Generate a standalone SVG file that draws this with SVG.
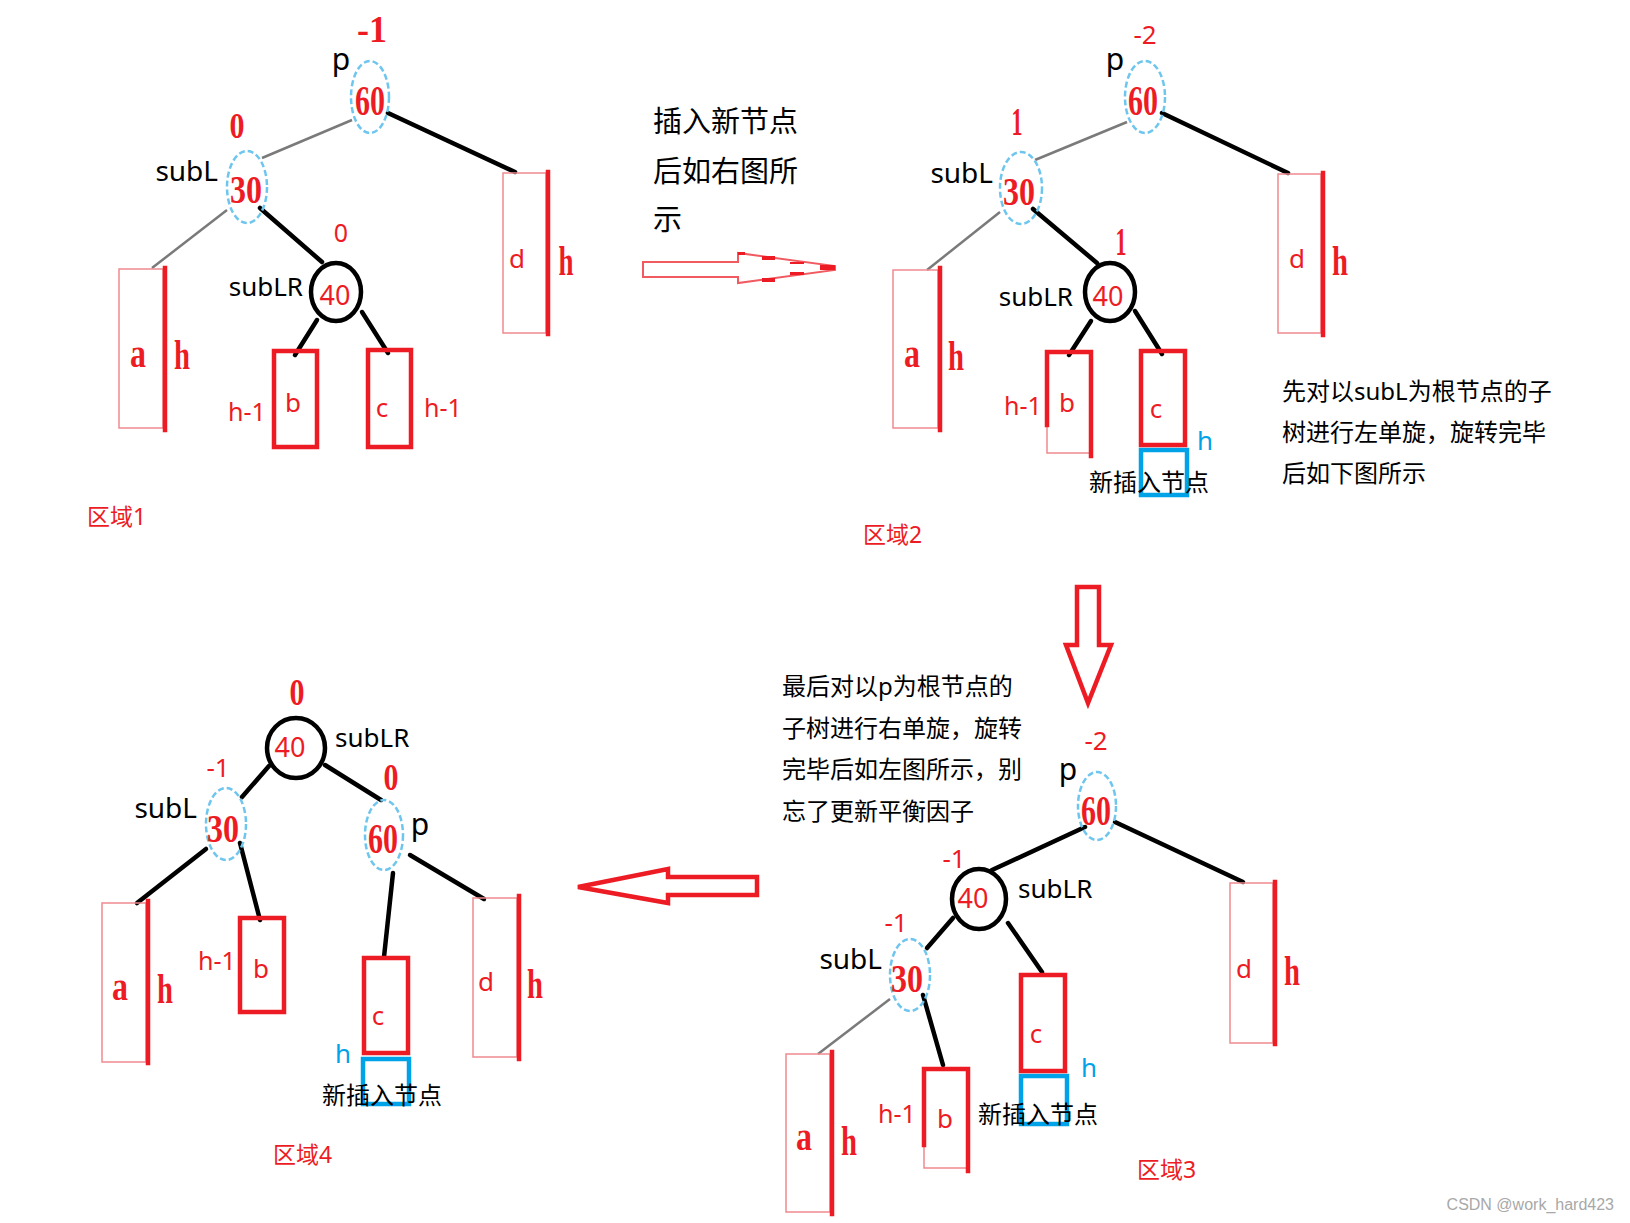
<svg xmlns="http://www.w3.org/2000/svg" width="1630" height="1223" viewBox="0 0 1630 1223">
<style>
text{font-family:"Noto Sans","Noto Sans CJK SC",sans-serif}
.k{fill:#000}
.r{fill:#ed1c24}
.bl{fill:#00a2e8}
.m{text-anchor:middle}
.e{text-anchor:end}
.ser{font-family:"Liberation Serif",serif;font-weight:bold;fill:#ed1c24;text-anchor:middle}
.thin{fill:none;stroke:#f08a8e;stroke-width:1.5}
.thick{fill:none;stroke:#ed1c24;stroke-width:4.5;stroke-linecap:square}
.blue{fill:none;stroke:#00a2e8;stroke-width:4.5}
.edge{stroke:#000;stroke-width:4.5;stroke-linecap:round}
.gedge{stroke:#7a7a7a;stroke-width:2.5}
.dash{fill:none;stroke:#6ec6ee;stroke-width:2.5;stroke-dasharray:6 3}
.circ{fill:none;stroke:#000;stroke-width:4.5}
.arr{fill:none;stroke:#ed1c24;stroke-width:4.5;stroke-linejoin:miter}
</style>
<rect width="1630" height="1223" fill="#fff"/>

<!-- ============ connectors ============ -->
<g id="connectors">
  <!-- region 1 -->
  <line class="gedge" x1="352" y1="120" x2="262" y2="158"/>
  <line class="edge" x1="388" y1="113" x2="515" y2="172"/>
  <line class="gedge" x1="227" y1="210" x2="152" y2="268"/>
  <line class="edge" x1="260" y1="208" x2="322" y2="262"/>
  <line class="edge" x1="317" y1="320" x2="295" y2="355"/>
  <line class="edge" x1="362" y1="312" x2="388" y2="353"/>
  <!-- region 2 -->
  <line class="gedge" x1="1127" y1="122" x2="1035" y2="160"/>
  <line class="edge" x1="1162" y1="113" x2="1288" y2="173"/>
  <line class="gedge" x1="1000" y1="212" x2="927" y2="270"/>
  <line class="edge" x1="1033" y1="209" x2="1097" y2="263"/>
  <line class="edge" x1="1091" y1="321" x2="1069" y2="355"/>
  <line class="edge" x1="1135" y1="311" x2="1162" y2="354"/>
  <!-- region 3 -->
  <line class="edge" x1="1085" y1="827" x2="992" y2="870"/>
  <line class="edge" x1="1115" y1="822" x2="1243" y2="882"/>
  <line class="edge" x1="953" y1="918" x2="927" y2="948"/>
  <line class="edge" x1="1008" y1="923" x2="1042" y2="972"/>
  <line class="gedge" x1="890" y1="999" x2="818" y2="1054"/>
  <line class="edge" x1="923" y1="995" x2="943" y2="1065"/>
  <!-- region 4 -->
  <line class="edge" x1="269" y1="766" x2="242" y2="797"/>
  <line class="edge" x1="325" y1="765" x2="381" y2="800"/>
  <line class="edge" x1="206" y1="849" x2="137" y2="903"/>
  <line class="edge" x1="240" y1="843" x2="260" y2="920"/>
  <line class="edge" x1="393" y1="873" x2="384" y2="957"/>
  <line class="edge" x1="410" y1="855" x2="484" y2="899"/>
</g>

<!-- ============ transition arrows ============ -->
<g id="arrow-right">
  <polygon points="643,262 738,262 738,253 835,266 835,270 738,283 738,277 643,277" fill="#fff" stroke="#f05a60" stroke-width="2"/>
  <rect x="738" y="252" width="7" height="3" fill="#ed1c24"/>
  <rect x="762" y="256" width="13" height="4" fill="#ed1c24"/>
  <rect x="790" y="262" width="14" height="2" fill="#ed1c24"/>
  <rect x="820" y="265" width="15" height="5" fill="#ed1c24"/>
  <rect x="762" y="278" width="13" height="4" fill="#ed1c24"/>
  <rect x="790" y="272" width="14" height="3" fill="#ed1c24"/>
</g>
<g id="arrow-down">
  <polygon class="arr" points="1077,587 1099,587 1099,645 1111,645 1088,703 1066,645 1077,645"/>
</g>
<g id="arrow-left">
  <polygon class="arr" points="757,877 668,877 668,869 578,887 668,903 668,895 757,895"/>
</g>

<!-- ============ REGION 1 ============ -->
<g id="r1-p">
  <ellipse class="dash" cx="370" cy="97" rx="19" ry="36"/>
  <text class="ser" x="370" y="115" font-size="42" textLength="30" lengthAdjust="spacingAndGlyphs">60</text>
  <text class="k m" x="341" y="70" font-size="30">p</text>
  <text class="ser" x="372" y="42" font-size="38" textLength="30" lengthAdjust="spacingAndGlyphs">-1</text>
</g>
<g id="r1-subL">
  <ellipse class="dash" cx="247" cy="187" rx="20" ry="36"/>
  <text class="ser" x="246" y="203" font-size="40" textLength="32" lengthAdjust="spacingAndGlyphs">30</text>
  <text class="k e" x="218" y="181" font-size="28">subL</text>
  <text class="ser" x="237" y="138" font-size="36" textLength="15" lengthAdjust="spacingAndGlyphs">0</text>
</g>
<g id="r1-subLR">
  <ellipse class="circ" cx="336" cy="292" rx="25" ry="29"/>
  <text class="r m" x="335" y="305" font-size="27">40</text>
  <text class="k e" x="303" y="296" font-size="26">subLR</text>
  <text class="r m" x="341" y="242" font-size="25">0</text>
</g>
<g id="r1-a">
  <rect class="thin" x="119" y="269" width="44" height="159"/>
  <line class="thick" x1="165" y1="268" x2="165" y2="430"/>
  <text class="ser" x="138" y="367" font-size="40" textLength="16" lengthAdjust="spacingAndGlyphs">a</text>
  <text class="ser" x="182" y="369" font-size="42" textLength="16" lengthAdjust="spacingAndGlyphs">h</text>
</g>
<g id="r1-b">
  <rect class="thick" x="274" y="351" width="43" height="96"/>
  <text class="r m" x="293" y="412" font-size="26">b</text>
  <text class="r m" x="247" y="421" font-size="25">h-1</text>
</g>
<g id="r1-c">
  <rect class="thick" x="368" y="350" width="43" height="97"/>
  <text class="r m" x="382" y="417" font-size="26">c</text>
  <text class="r m" x="443" y="417" font-size="25">h-1</text>
</g>
<g id="r1-d">
  <rect class="thin" x="503" y="173" width="43" height="160"/>
  <line class="thick" x1="548" y1="172" x2="548" y2="334"/>
  <text class="r m" x="517" y="268" font-size="26">d</text>
  <text class="ser" x="566" y="275" font-size="42" textLength="15" lengthAdjust="spacingAndGlyphs">h</text>
</g>
<g id="r1-label">
  <text class="r" x="87" y="525" font-size="23">区域1</text>
</g>

<g id="note1">
  <text class="k" x="653" y="132" font-size="29">插入新节点</text>
  <text class="k" x="653" y="182" font-size="29">后如右图所</text>
  <text class="k" x="653" y="230" font-size="29">示</text>
</g>

<!-- ============ REGION 2 ============ -->
<g id="r2-p">
  <ellipse class="dash" cx="1145" cy="97" rx="20" ry="36"/>
  <text class="ser" x="1143" y="115" font-size="42" textLength="30" lengthAdjust="spacingAndGlyphs">60</text>
  <text class="k m" x="1115" y="70" font-size="30">p</text>
  <text class="r m" x="1145" y="44" font-size="26">-2</text>
</g>
<g id="r2-subL">
  <ellipse class="dash" cx="1021" cy="188" rx="21" ry="36"/>
  <text class="ser" x="1019" y="205" font-size="40" textLength="32" lengthAdjust="spacingAndGlyphs">30</text>
  <text class="k e" x="993" y="183" font-size="28">subL</text>
  <text class="ser" x="1017" y="135" font-size="40" textLength="11" lengthAdjust="spacingAndGlyphs">1</text>
</g>
<g id="r2-subLR">
  <ellipse class="circ" cx="1110" cy="292" rx="25" ry="29"/>
  <text class="r m" x="1108" y="306" font-size="27">40</text>
  <text class="k e" x="1073" y="306" font-size="26">subLR</text>
  <text class="ser" x="1121" y="255" font-size="40" textLength="11" lengthAdjust="spacingAndGlyphs">1</text>
</g>
<g id="r2-a">
  <rect class="thin" x="893" y="270" width="45" height="158"/>
  <line class="thick" x1="940" y1="268" x2="940" y2="430"/>
  <text class="ser" x="912" y="367" font-size="40" textLength="16" lengthAdjust="spacingAndGlyphs">a</text>
  <text class="ser" x="956" y="370" font-size="42" textLength="16" lengthAdjust="spacingAndGlyphs">h</text>
</g>
<g id="r2-b">
  <polyline class="thin" points="1047,425 1047,453 1091,453"/>
  <polyline class="thick" points="1047,425 1047,352 1091,352 1091,456"/>
  <text class="r m" x="1067" y="412" font-size="26">b</text>
  <text class="r m" x="1023" y="415" font-size="25">h-1</text>
</g>
<g id="r2-c">
  <rect class="blue" x="1141" y="450" width="46" height="45"/>
  <rect class="thick" x="1141" y="351" width="44" height="94"/>
  <text class="r m" x="1156" y="418" font-size="26">c</text>
  <text class="bl m" x="1205" y="450" font-size="26">h</text>
  <text class="k" x="1089" y="491" font-size="24">新插入节点</text>
</g>
<g id="r2-d">
  <rect class="thin" x="1278" y="174" width="43" height="159"/>
  <line class="thick" x1="1323" y1="173" x2="1323" y2="335"/>
  <text class="r m" x="1297" y="268" font-size="26">d</text>
  <text class="ser" x="1340" y="275" font-size="42" textLength="16" lengthAdjust="spacingAndGlyphs">h</text>
</g>
<g id="r2-label">
  <text class="r" x="863" y="543" font-size="23">区域2</text>
</g>
<g id="note2">
  <text class="k" x="1282" y="400" font-size="24">先对以subL为根节点的子</text>
  <text class="k" x="1282" y="441" font-size="24">树进行左单旋，旋转完毕</text>
  <text class="k" x="1282" y="482" font-size="24">后如下图所示</text>
</g>

<!-- ============ REGION 3 ============ -->
<g id="note3">
  <text class="k" x="782" y="695" font-size="24">最后对以p为根节点的</text>
  <text class="k" x="782" y="737" font-size="24">子树进行右单旋，旋转</text>
  <text class="k" x="782" y="778" font-size="24">完毕后如左图所示，别</text>
  <text class="k" x="782" y="820" font-size="24">忘了更新平衡因子</text>
</g>
<g id="r3-p">
  <ellipse class="dash" cx="1097" cy="806" rx="19" ry="34"/>
  <text class="ser" x="1096" y="825" font-size="42" textLength="30" lengthAdjust="spacingAndGlyphs">60</text>
  <text class="k m" x="1068" y="780" font-size="30">p</text>
  <text class="r m" x="1096" y="750" font-size="26">-2</text>
</g>
<g id="r3-subLR">
  <ellipse class="circ" cx="979" cy="899" rx="27" ry="30"/>
  <text class="r m" x="973" y="908" font-size="27">40</text>
  <text class="k" x="1018" y="898" font-size="26">subLR</text>
  <text class="r m" x="954" y="868" font-size="26">-1</text>
</g>
<g id="r3-subL">
  <ellipse class="dash" cx="910" cy="975" rx="20" ry="36"/>
  <text class="ser" x="907" y="992" font-size="40" textLength="32" lengthAdjust="spacingAndGlyphs">30</text>
  <text class="k e" x="882" y="969" font-size="28">subL</text>
  <text class="r m" x="896" y="932" font-size="26">-1</text>
</g>
<g id="r3-a">
  <rect class="thin" x="786" y="1054" width="44" height="158"/>
  <line class="thick" x1="832" y1="1052" x2="832" y2="1214"/>
  <text class="ser" x="804" y="1150" font-size="40" textLength="16" lengthAdjust="spacingAndGlyphs">a</text>
  <text class="ser" x="849" y="1155" font-size="42" textLength="16" lengthAdjust="spacingAndGlyphs">h</text>
</g>
<g id="r3-b">
  <polyline class="thin" points="924,1145 924,1168 968,1168"/>
  <polyline class="thick" points="924,1145 924,1069 968,1069 968,1171"/>
  <text class="r m" x="945" y="1128" font-size="26">b</text>
  <text class="r m" x="897" y="1123" font-size="25">h-1</text>
</g>
<g id="r3-c">
  <rect class="blue" x="1021" y="1076" width="46" height="48"/>
  <rect class="thick" x="1021" y="975" width="44" height="96"/>
  <text class="r m" x="1036" y="1043" font-size="26">c</text>
  <text class="bl m" x="1089" y="1077" font-size="26">h</text>
  <text class="k" x="978" y="1123" font-size="24">新插入节点</text>
</g>
<g id="r3-d">
  <rect class="thin" x="1230" y="883" width="43" height="160"/>
  <line class="thick" x1="1275" y1="882" x2="1275" y2="1044"/>
  <text class="r m" x="1244" y="978" font-size="26">d</text>
  <text class="ser" x="1292" y="985" font-size="42" textLength="16" lengthAdjust="spacingAndGlyphs">h</text>
</g>
<g id="r3-label">
  <text class="r" x="1137" y="1178" font-size="23">区域3</text>
</g>

<!-- ============ REGION 4 ============ -->
<g id="r4-subLR">
  <ellipse class="circ" cx="296" cy="748" rx="29" ry="30"/>
  <text class="r m" x="290" y="757" font-size="27">40</text>
  <text class="k" x="335" y="747" font-size="26">subLR</text>
  <text class="ser" x="297" y="705" font-size="38" textLength="15" lengthAdjust="spacingAndGlyphs">0</text>
</g>
<g id="r4-subL">
  <ellipse class="dash" cx="226" cy="824" rx="20" ry="36"/>
  <text class="ser" x="223" y="842" font-size="40" textLength="32" lengthAdjust="spacingAndGlyphs">30</text>
  <text class="k e" x="197" y="818" font-size="28">subL</text>
  <text class="r m" x="218" y="777" font-size="26">-1</text>
</g>
<g id="r4-p">
  <ellipse class="dash" cx="384" cy="835" rx="19" ry="35"/>
  <text class="ser" x="383" y="853" font-size="42" textLength="30" lengthAdjust="spacingAndGlyphs">60</text>
  <text class="k m" x="420" y="835" font-size="30">p</text>
  <text class="ser" x="391" y="790" font-size="38" textLength="15" lengthAdjust="spacingAndGlyphs">0</text>
</g>
<g id="r4-a">
  <rect class="thin" x="102" y="903" width="44" height="159"/>
  <line class="thick" x1="148" y1="901" x2="148" y2="1063"/>
  <text class="ser" x="120" y="1000" font-size="40" textLength="16" lengthAdjust="spacingAndGlyphs">a</text>
  <text class="ser" x="165" y="1003" font-size="42" textLength="16" lengthAdjust="spacingAndGlyphs">h</text>
</g>
<g id="r4-b">
  <rect class="thick" x="240" y="918" width="44" height="94"/>
  <text class="r m" x="261" y="978" font-size="26">b</text>
  <text class="r m" x="217" y="970" font-size="25">h-1</text>
</g>
<g id="r4-c">
  <rect class="blue" x="363" y="1059" width="46" height="45"/>
  <rect class="thick" x="364" y="958" width="44" height="95"/>
  <text class="r m" x="378" y="1025" font-size="26">c</text>
  <text class="bl m" x="343" y="1063" font-size="26">h</text>
  <text class="k" x="322" y="1104" font-size="24">新插入节点</text>
</g>
<g id="r4-d">
  <rect class="thin" x="473" y="898" width="44" height="159"/>
  <line class="thick" x1="519" y1="896" x2="519" y2="1059"/>
  <text class="r m" x="486" y="991" font-size="26">d</text>
  <text class="ser" x="535" y="998" font-size="42" textLength="16" lengthAdjust="spacingAndGlyphs">h</text>
</g>
<g id="r4-label">
  <text class="r" x="273" y="1163" font-size="23">区域4</text>
</g>

<text x="1614" y="1210" font-size="16" fill="#a8a8a8" text-anchor="end" style="font-family:'Liberation Sans',sans-serif">CSDN @work_hard423</text>
</svg>
